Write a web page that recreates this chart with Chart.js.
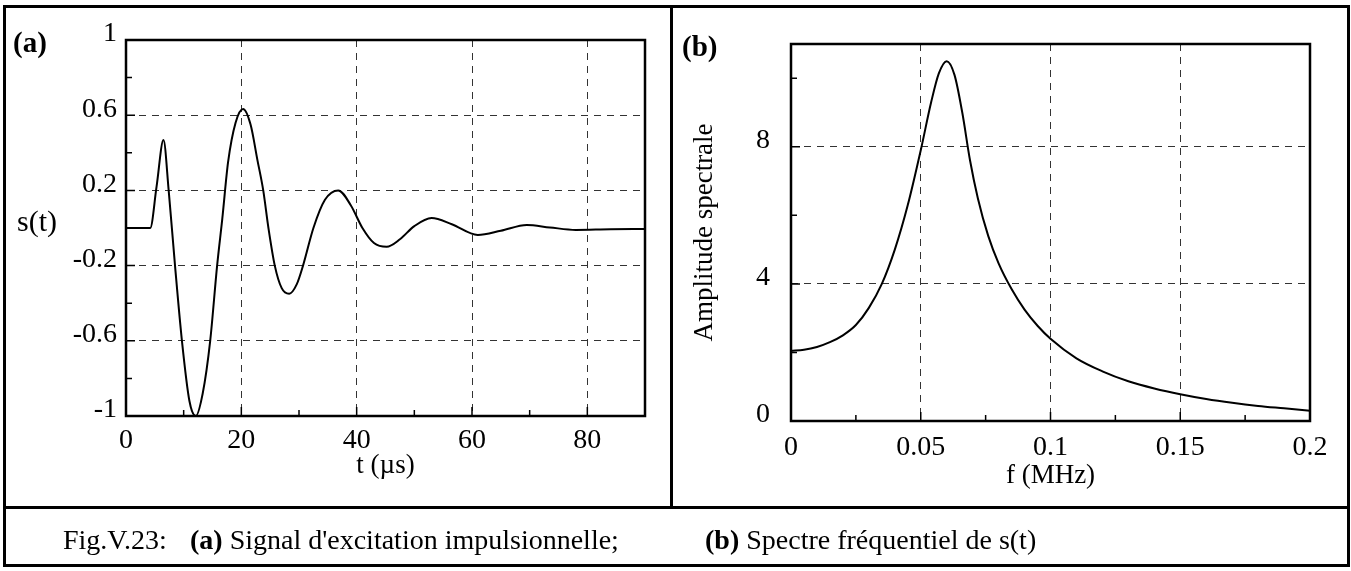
<!DOCTYPE html>
<html>
<head>
<meta charset="utf-8">
<script src="https://cdn.jsdelivr.net/npm/chart.js@4/dist/chart.umd.min.js"></script>
<style>
  body { margin: 0; background: #fff; font-family: "Liberation Serif", "Times New Roman", serif; }
  #fig { position: relative; width: 1351px; height: 571px; overflow: hidden; }
  .frame { position: absolute; left: 3px; top: 5px; width: 1341px; height: 556px; border: 3px solid #000; }
  .vline { position: absolute; left: 670px; top: 5px; width: 3px; height: 503px; background: #000; }
  .hline { position: absolute; left: 3px; top: 506px; width: 1345px; height: 3px; background: #000; }
  canvas { position: absolute; top: 0; }
  .lbl { position: absolute; color: #000; white-space: nowrap; line-height: 1; }
  .panel { font-weight: bold; font-size: 29px; }
  .cap { font-size: 28px; top: 526px; }
</style>
</head>
<body>
<div id="fig">
  <canvas id="chartA" width="671" height="510" style="left:0"></canvas>
  <canvas id="chartB" width="680" height="510" style="left:671px"></canvas>
  <div class="frame"></div>
  <div class="vline"></div>
  <div class="hline"></div>
  <div class="lbl panel" style="left:13px; top:28px">(a)</div>
  <div class="lbl panel" style="left:682px; top:32px">(b)</div>
  <div class="lbl" style="left:17px; top:206px; font-size:30px">s(t)</div>
  <div class="lbl cap" style="left:63px">Fig.V.23:</div>
  <div class="lbl cap" style="left:190px"><b>(a)</b> Signal d'excitation impulsionnelle;</div>
  <div class="lbl cap" style="left:705px"><b>(b)</b> Spectre fréquentiel de s(t)</div>
</div>
<script>
// (a) impulse signal
const timeUs = [0, 4.2, 5.3, 6.5, 7.4, 8.5, 9.7, 11, 12.1, 13.3, 14.6, 15.8, 16.7, 17.7, 19, 20.3,
  21.6, 22.8, 23.8, 24.7, 25.8, 27, 28.3, 29.6, 30.7, 32.5, 34.5, 36.8, 39, 41, 43, 45.2, 47.5,
  50, 53, 56.5, 61, 65, 69.5, 73.5, 78, 84, 90];
const signal = [0, 0, 0.22, 0.468, 0.2, -0.2, -0.6, -0.92, -1.0, -0.88, -0.6, -0.2, 0.05, 0.35, 0.56, 0.633,
  0.55, 0.36, 0.2, 0.0, -0.2, -0.32, -0.35, -0.3, -0.2, 0.0, 0.15, 0.2, 0.12, 0.0, -0.08, -0.1, -0.06,
  0.01, 0.053, 0.02, -0.037, -0.015, 0.016, 0.003, -0.01, -0.006, -0.005];
const tTicks = [0, 20, 40, 60, 80];
const tMinor = [10, 30, 50, 70];
const sTicks = [-1, -0.6, -0.2, 0.2, 0.6, 1];
const sMinor = [-0.8, -0.4, 0, 0.4, 0.8];

// (b) spectrum
const freqMHz = [0, 0.005, 0.01, 0.015, 0.02, 0.025, 0.03, 0.035, 0.04, 0.045, 0.05, 0.054, 0.057,
  0.06, 0.063, 0.066, 0.069, 0.072, 0.076, 0.08, 0.085, 0.09, 0.095, 0.1, 0.11, 0.12, 0.13, 0.14,
  0.15, 0.16, 0.17, 0.18, 0.19, 0.2];
const amplitude = [2.05, 2.08, 2.16, 2.3, 2.5, 2.8, 3.3, 4.0, 5.0, 6.3, 7.9, 9.3, 10.15,
  10.5, 10.1, 9.0, 7.6, 6.5, 5.4, 4.6, 3.85, 3.25, 2.78, 2.4, 1.83, 1.45, 1.16, 0.95,
  0.78, 0.64, 0.53, 0.44, 0.37, 0.3];
const fTicks = [0, 0.05, 0.1, 0.15, 0.2];
const fMinor = [0.025, 0.075, 0.125, 0.175];
const ampTicks = [0, 4, 8];
const ampMinor = [2, 6, 10];

const serif = "'Liberation Serif', 'Times New Roman', serif";

// box around the plot + inward tick marks like the original figure
const frameTicks = {
  id: "frameTicks",
  afterDatasetsDraw(chart, args, opts) {
    const { ctx, chartArea: a, scales } = chart;
    const x = scales.x, y = scales.y;
    ctx.save();
    ctx.strokeStyle = "#000";
    ctx.lineWidth = 1.5;
    ctx.beginPath();
    x.ticks.forEach(t => {
      const px = x.getPixelForValue(t.value);
      ctx.moveTo(px, a.bottom); ctx.lineTo(px, a.bottom - 9);
    });
    opts.xMinor.forEach(v => {
      const px = x.getPixelForValue(v);
      ctx.moveTo(px, a.bottom); ctx.lineTo(px, a.bottom - 6);
    });
    y.ticks.forEach(t => {
      const py = y.getPixelForValue(t.value);
      ctx.moveTo(a.left, py); ctx.lineTo(a.left + 9, py);
    });
    opts.yMinor.forEach(v => {
      const py = y.getPixelForValue(v);
      ctx.moveTo(a.left, py); ctx.lineTo(a.left + 6, py);
    });
    ctx.stroke();
    ctx.lineWidth = 2.5;
    ctx.strokeRect(a.left, a.top, a.right - a.left, a.bottom - a.top);
    ctx.restore();
  }
};

function makeChart(id, cfg) {
  const pts = cfg.xs.map((v, i) => ({ x: v, y: cfg.ys[i] }));
  return new Chart(document.getElementById(id), {
    type: "line",
    data: {
      datasets: [{
        data: pts,
        borderColor: "#000",
        borderWidth: 2,
        pointRadius: 0,
        cubicInterpolationMode: "monotone",
        fill: false
      }]
    },
    options: {
      responsive: false,
      animation: false,
      layout: { padding: cfg.padding },
      plugins: {
        legend: { display: false },
        tooltip: { enabled: false },
        frameTicks: { xMinor: cfg.xMinor, yMinor: cfg.yMinor }
      },
      scales: {
        x: {
          type: "linear",
          min: cfg.xMin, max: cfg.xMax,
          afterFit: s => { s.height = cfg.xHeight; },
          afterBuildTicks: s => { s.ticks = cfg.xTicks.map(v => ({ value: v })); },
          grid: { color: "#333", lineWidth: 1, drawTicks: false },
          border: { display: false, dash: [7, 6] },
          ticks: {
            color: "#000", padding: cfg.xPad, maxRotation: 0, autoSkip: false,
            font: { family: serif, size: 28 },
            callback: v => String(v)
          },
          title: {
            display: true, text: cfg.xTitle, color: "#000",
            font: { family: serif, size: 27 },
            padding: { top: 0, bottom: cfg.xTitlePad }
          }
        },
        y: {
          type: "linear",
          min: cfg.yMin, max: cfg.yMax,
          afterFit: s => { s.width = cfg.yWidth; },
          afterBuildTicks: s => { s.ticks = cfg.yTicks.map(v => ({ value: v })); },
          grid: { color: "#333", lineWidth: 1, drawTicks: false },
          border: { display: false, dash: [7, 6] },
          ticks: {
            color: "#000", padding: cfg.yPad, autoSkip: false, labelOffset: -6,
            font: { family: serif, size: 28 },
            callback: v => String(v)
          },
          title: {
            display: !!cfg.yTitle, text: cfg.yTitle || "", color: "#000",
            font: { family: serif, size: 27 },
            padding: { top: 18, bottom: 0 }
          }
        }
      }
    },
    plugins: [frameTicks]
  });
}

makeChart("chartA", {
  xs: timeUs, ys: signal,
  xMin: 0, xMax: 90, yMin: -1, yMax: 1,
  xTicks: tTicks, yTicks: sTicks, xMinor: tMinor, yMinor: sMinor,
  padding: { top: 40, right: 26, left: 0, bottom: 0 },
  xHeight: 94, yWidth: 126, xPad: 8, yPad: 9,
  xTitle: "t (µs)", xTitlePad: 28
});

makeChart("chartB", {
  xs: freqMHz, ys: amplitude,
  xMin: 0, xMax: 0.2, yMin: 0, yMax: 11,
  xTicks: fTicks, yTicks: ampTicks, xMinor: fMinor, yMinor: ampMinor,
  padding: { top: 44, right: 41, left: 0, bottom: 0 },
  xHeight: 89, yWidth: 120, xPad: 10, yPad: 21,
  xTitle: "f (MHz)", xTitlePad: 18,
  yTitle: "Amplitude spectrale"
});
</script>
</body>
</html>
